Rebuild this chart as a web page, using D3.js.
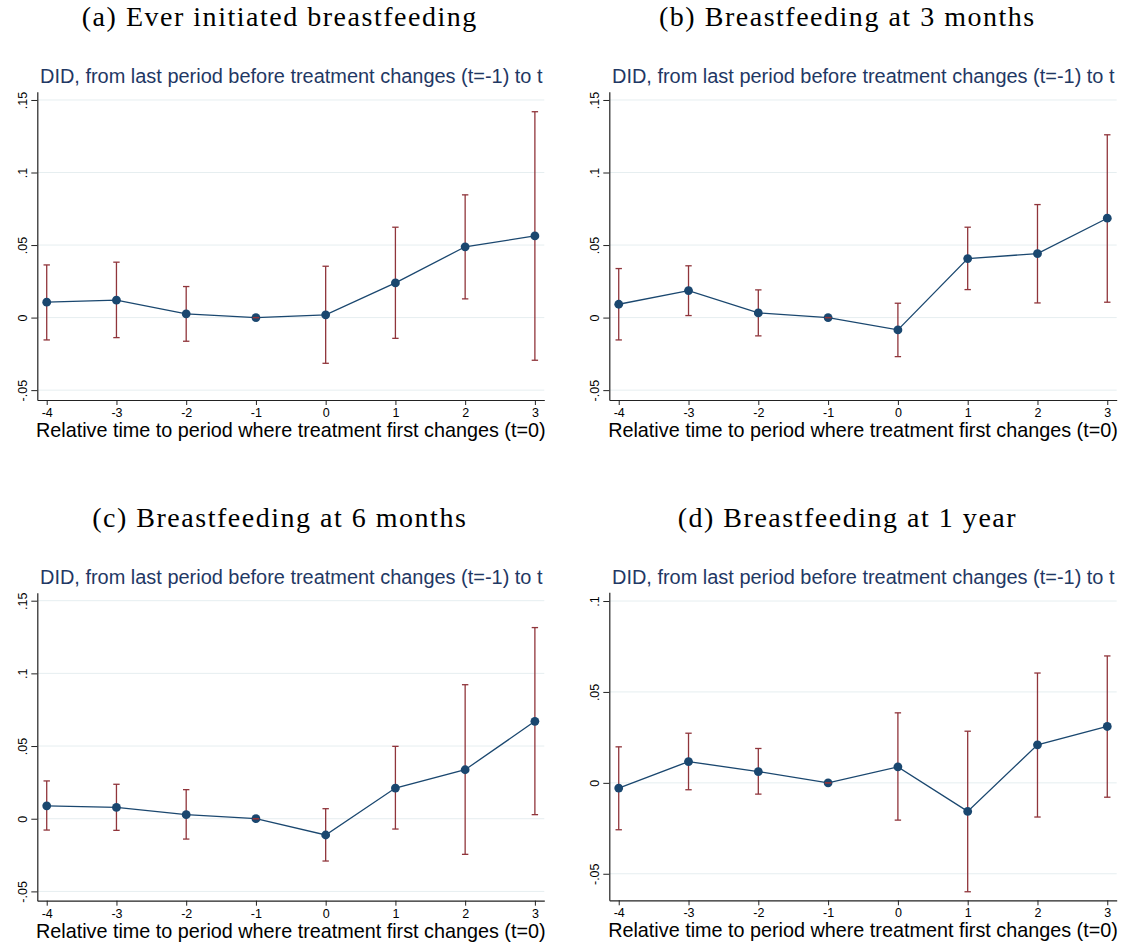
<!DOCTYPE html>
<html>
<head>
<meta charset="utf-8">
<script src="https://cdn.jsdelivr.net/npm/d3@7"></script>
<style>
  body { margin: 0; background: #fff; }
  svg { display: block; }
</style>
</head>
<body>
<div class="plot-container"></div>
<script>
// *************************************
// DATA
// *************************************

const periods = [-4, -3, -2, -1, 0, 1, 2, 3];

const captions = [
  "(a) Ever initiated breastfeeding",
  "(b) Breastfeeding at 3 months",
  "(c) Breastfeeding at 6 months",
  "(d) Breastfeeding at 1 year"
];
const subtitle = "DID, from last period before treatment changes (t=-1) to t";
const xTitle = "Relative time to period where treatment first changes (t=0)";

const yTicksWide = [-0.05, 0, 0.05, 0.1, 0.15];
const yTicksNarrow = [-0.05, 0, 0.05, 0.1];

// (a) ever initiated
const estEver = [0.0106, 0.0120, 0.0026, 0, 0.0019, 0.0239, 0.0488, 0.0563];
const loEver  = [-0.0154, -0.0138, -0.0163, 0, -0.0315, -0.0143, 0.0129, -0.0294];
const hiEver  = [0.0363, 0.0382, 0.0214, 0, 0.0354, 0.0623, 0.0846, 0.1419];

// (b) 3 months
const est3m = [0.0092, 0.0186, 0.0032, 0, -0.0085, 0.0407, 0.0441, 0.0685];
const lo3m  = [-0.0154, 0.0014, -0.0126, 0, -0.0269, 0.0193, 0.0101, 0.0106];
const hi3m  = [0.0338, 0.0357, 0.0191, 0, 0.0099, 0.0623, 0.0779, 0.1260];

// (c) 6 months
const est6m = [0.0089, 0.0078, 0.0028, 0, -0.0112, 0.0211, 0.0337, 0.0670];
const lo6m  = [-0.0078, -0.0080, -0.0140, 0, -0.0291, -0.0071, -0.0245, 0.0028];
const hi6m  = [0.0260, 0.0237, 0.0200, 0, 0.0069, 0.0498, 0.0922, 0.1315];

// (d) 1 year
const est1y = [-0.0029, 0.0117, 0.0062, 0, 0.0088, -0.0157, 0.0209, 0.0310];
const lo1y  = [-0.0258, -0.0038, -0.0062, 0, -0.0205, -0.0599, -0.0188, -0.0079];
const hi1y  = [0.0198, 0.0273, 0.0189, 0, 0.0385, 0.0284, 0.0604, 0.0698];

// *************************************
// LAYOUT
// *************************************

const W = 1124, H = 948;
const navy = "#1a476f", maroon = "#90353b", titleNavy = "#1f3864";
const capSize = 28;

const panels = [
  { caption: captions[0], est: estEver, lo: loEver, hi: hiEver, ticks: yTicksWide,
    left: 37.3, right: 544.3, top: 91.7, bottom: 400, yDomain: [-0.0568, 0.1557] },
  { caption: captions[1], est: est3m, lo: lo3m, hi: hi3m, ticks: yTicksWide,
    left: 609.3, right: 1116.7, top: 91.7, bottom: 400, yDomain: [-0.0568, 0.1557] },
  { caption: captions[2], est: est6m, lo: lo6m, hi: hi6m, ticks: yTicksWide,
    left: 37.3, right: 544.3, top: 592.7, bottom: 900.7, yDomain: [-0.0564, 0.1555] },
  { caption: captions[3], est: est1y, lo: lo1y, hi: hi1y, ticks: yTicksNarrow,
    left: 609.3, right: 1116.7, top: 592.3, bottom: 900.3, yDomain: [-0.0646, 0.1048] }
];

// Stata style tick labels: .05, -.05, 0 (plain hyphen, no unicode minus)
let stataFormat = (d) => (d === 0 ? "0" : String(+d.toFixed(3)).replace("0.", "."));
let plainFormat = (d) => String(d);

// shrink/grow a text so that it spans the wanted width
let fitWidth = (sel, target) => {
  let w = sel.node().getComputedTextLength();
  let fs = parseFloat(sel.attr("font-size"));
  sel.attr("font-size", fs * target / w);
};

const svg = d3.select("body")
              .select("div.plot-container")
              .append("svg")
              .attr("width", W)
              .attr("height", H)
              .style("background", "#fff");

// *************************************
// CAPTIONS (LaTeX look: a bit of extra spacing)
// *************************************

let capA = svg.append("text")
              .attr("font-family", "Liberation Serif, serif")
              .attr("font-size", capSize)
              .text(captions[0]);
let wA = capA.node().getComputedTextLength();
capA.remove();
const capSpacing = (396 - wA) / captions[0].length;

let capB = svg.append("text")
              .attr("font-family", "Liberation Serif, serif")
              .attr("font-size", capSize)
              .attr("letter-spacing", capSpacing)
              .text(captions[1]);
let wB = capB.node().getComputedTextLength();
capB.remove();

const colCenters = [279 + capSpacing / 2, 659 + wB / 2];

// *************************************
// PANELS
// *************************************

let drawPanel = (p, i) => {
  let x = d3.scaleLinear()
            .domain([-4.135, 3.135])
            .range([p.left, p.right]);
  let y = d3.scaleLinear()
            .domain(p.yDomain)
            .range([p.bottom, p.top]);

  let g = svg.append("g").attr("class", "panel");

  // caption above the panel
  g.append("text")
   .attr("x", colCenters[i % 2])
   .attr("y", p.top - 65.7)
   .attr("text-anchor", "middle")
   .attr("font-family", "Liberation Serif, serif")
   .attr("font-size", capSize)
   .attr("letter-spacing", capSpacing)
   .attr("fill", "#000")
   .text(p.caption);

  // graph subtitle
  let sub = g.append("text")
             .attr("x", p.left + 2.7)
             .attr("y", p.top - 8.4)
             .attr("font-family", "Liberation Sans, Arial, sans-serif")
             .attr("font-size", 18)
             .attr("fill", titleNavy)
             .text(subtitle);
  fitWidth(sub, 503);

  // gridlines
  g.append("g")
   .selectAll("line")
   .data(p.ticks)
   .join("line")
   .attr("x1", p.left)
   .attr("x2", p.right)
   .attr("y1", (d) => y(d))
   .attr("y2", (d) => y(d))
   .attr("stroke", "#e6eef0")
   .attr("stroke-width", 1);

  // y axis with rotated labels
  let yAxis = g.append("g")
               .attr("transform", `translate(${p.left},0)`)
               .call(d3.axisLeft(y).tickValues(p.ticks).tickSize(6).tickSizeOuter(0).tickFormat(stataFormat));
  yAxis.selectAll("text")
       .attr("x", null)
       .attr("dy", null)
       .attr("text-anchor", "middle")
       .attr("transform", "translate(-10.5,0) rotate(-90)");

  // x axis
  let xAxis = g.append("g")
               .attr("transform", `translate(0,${p.bottom})`)
               .call(d3.axisBottom(x).tickValues(periods).tickSize(5).tickSizeOuter(0).tickFormat(plainFormat));

  [yAxis, xAxis].forEach((ax) => {
    ax.attr("font-family", "Liberation Sans, Arial, sans-serif")
      .attr("font-size", 12.5);
    ax.selectAll("text").attr("fill", "#000");
    ax.selectAll("line").attr("stroke", "#222").attr("stroke-width", 1);
    ax.select(".domain").attr("stroke", "#222").attr("stroke-width", 1.2);
  });

  // x axis title
  let xt = g.append("text")
            .attr("x", (p.left + p.right) / 2)
            .attr("y", p.bottom + 37)
            .attr("text-anchor", "middle")
            .attr("font-family", "Liberation Sans, Arial, sans-serif")
            .attr("font-size", 18)
            .attr("fill", "#000")
            .text(xTitle);
  fitWidth(xt, 510);

  let rows = periods.map((t, k) => ({ t: t, est: p.est[k], lo: p.lo[k], hi: p.hi[k] }));

  // confidence intervals
  g.append("g")
   .selectAll("line")
   .data(rows)
   .join("line")
   .attr("x1", (d) => x(d.t))
   .attr("x2", (d) => x(d.t))
   .attr("y1", (d) => y(d.lo))
   .attr("y2", (d) => y(d.hi))
   .attr("stroke", maroon)
   .attr("stroke-width", 1.3);

  // connecting line
  g.append("path")
   .datum(rows)
   .attr("fill", "none")
   .attr("stroke", navy)
   .attr("stroke-width", 1.3)
   .attr("d", d3.line().x((d) => x(d.t)).y((d) => y(d.est)));

  // markers
  g.append("g")
   .selectAll("circle")
   .data(rows)
   .join("circle")
   .attr("cx", (d) => x(d.t))
   .attr("cy", (d) => y(d.est))
   .attr("r", 4.4)
   .attr("fill", navy);

  // caps of the intervals, on top
  let caps = rows.flatMap((d) => [{ t: d.t, v: d.lo }, { t: d.t, v: d.hi }]);
  g.append("g")
   .selectAll("line")
   .data(caps)
   .join("line")
   .attr("x1", (d) => x(d.t) - 3.2)
   .attr("x2", (d) => x(d.t) + 3.2)
   .attr("y1", (d) => y(d.v))
   .attr("y2", (d) => y(d.v))
   .attr("stroke", maroon)
   .attr("stroke-width", 1.3);
};

panels.forEach(drawPanel);
</script>
</body>
</html>
